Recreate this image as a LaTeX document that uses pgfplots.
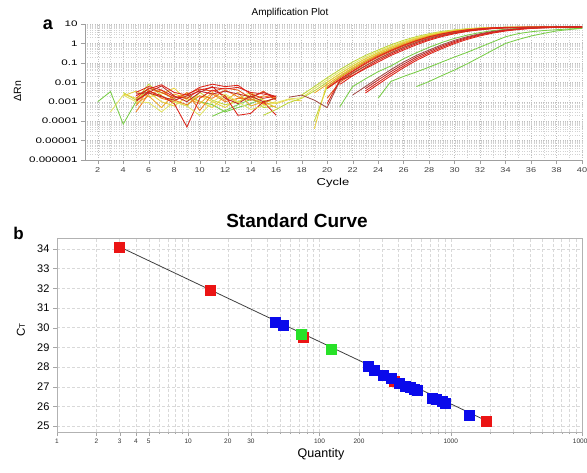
\documentclass[border=0pt]{standalone}
\usepackage{fontspec}
\setmainfont{Liberation Sans}
\newfontfamily\widefont[FakeStretch=1.3]{Liberation Sans}
\newfontfamily\widerfont[FakeStretch=1.45]{Liberation Sans}
\usepackage{pgfplots}
\pgfplotsset{compat=1.18}
\definecolor{cR}{RGB}{220,35,25}
\definecolor{cDR}{RGB}{190,40,40}
\definecolor{cOR}{RGB}{232,80,20}
\definecolor{cO}{RGB}{238,125,30}
\definecolor{cA}{RGB}{236,170,40}
\definecolor{cY}{RGB}{232,210,60}
\definecolor{cLY}{RGB}{226,228,100}
\definecolor{cYG}{RGB}{190,215,55}
\definecolor{cG}{RGB}{120,205,70}
\definecolor{cBr}{RGB}{160,75,70}
\definecolor{mR}{RGB}{235,20,20}
\definecolor{mB}{RGB}{10,10,235}
\definecolor{mG}{RGB}{40,225,40}
\begin{document}
\begin{tikzpicture}
\path[use as bounding box] (0pt,0pt) rectangle (587pt,-472pt);
% ---------------- panel a ----------------
\begin{axis}[
  at={(85pt,-160pt)}, anchor=south west,
  scale only axis, width=497pt, height=136pt,
  ymode=log, xmin=1, xmax=40, ymin=1e-6, ymax=10,
  axis x line*=bottom, axis y line*=left,
  axis line style={gray!75,-},
  /pgf/number format/assume math mode=true,
  xtick={2,4,...,40}, minor x tick num=1,
  ytick={1e-6,1e-5,1e-4,1e-3,1e-2,1e-1,1,10},
  yticklabels={0.000001,0.00001,0.0001,0.001,0.01,0.1,1,10},
  minor ytick={2e-6,3e-6,4e-6,5e-6,6e-6,7e-6,8e-6,9e-6,
    2e-5,3e-5,4e-5,5e-5,6e-5,7e-5,8e-5,9e-5,
    2e-4,3e-4,4e-4,5e-4,6e-4,7e-4,8e-4,9e-4,
    2e-3,3e-3,4e-3,5e-3,6e-3,7e-3,8e-3,9e-3,
    0.02,0.03,0.04,0.05,0.06,0.07,0.08,0.09,
    0.2,0.3,0.4,0.5,0.6,0.7,0.8,0.9,
    2,3,4,5,6,7,8,9},
  grid=both,
  major grid style={dotted, gray!50},
  minor grid style={dotted, gray!35},
  tick align=outside, major tick length=4pt, minor tick length=0pt,
  tick style={gray!75},
  x tick label style={font=\widefont\fontsize{7}{8}\selectfont, text=gray!50!black},
  y tick label style={font=\widerfont\fontsize{8}{9}\selectfont},
  every axis plot/.append style={line width=0.85pt, mark=none},
]
% baseline noise
\addplot[cG] coordinates {(2,0.001) (3,0.0033) (4,0.00007) (5,0.001) (6,0.005) (7,0.003) (8,0.0015) (9,0.0025) (10,0.001) (11,0.0007) (12,0.0003) (13,0.0005) (14,0.0008) (15,0.0015)};
\addplot[cG] coordinates {(11,0.00018) (12,0.00035) (13,0.0007) (14,0.0013) (15,0.0009) (16,0.0016)};
\addplot[cYG] coordinates {(4,0.003) (5,0.0012) (6,0.008) (7,0.002) (8,0.001) (9,0.0006) (10,0.003) (11,0.0012) (12,0.0007) (13,0.001) (14,0.002) (15,0.0005) (16,0.0006)};
\addplot[cY] coordinates {(4,0.0025) (5,0.0015) (6,0.003) (7,0.001) (8,0.0006) (9,0.0018) (10,0.001) (11,0.0005) (12,0.002) (13,0.0009) (14,0.0025) (15,0.0007) (16,0.001)};
\addplot[cY] coordinates {(4,0.002) (5,0.0035) (6,0.0018) (7,0.0025) (8,0.005) (9,0.0012) (10,0.002) (11,0.001) (12,0.0005) (13,0.0015) (14,0.003) (15,0.0012) (16,0.0008) (17,0.0013) (18,0.0011)};
\addplot[cA] coordinates {(5,0.0008) (6,0.002) (7,0.0005) (8,0.0025) (9,0.0015) (10,0.0008) (11,0.003) (12,0.0012) (13,0.003) (14,0.0006) (15,0.001) (16,0.0005)};
\addplot[cO] coordinates {(5,0.0006) (6,0.004) (7,0.0015) (8,0.001) (9,0.003) (10,0.00035) (11,0.0025) (12,0.001) (13,0.0015) (14,0.0014) (15,0.0008) (16,0.0018)};
\addplot[cO] coordinates {(5,0.0003) (6,0.0025) (7,0.004) (8,0.0012) (9,0.0007) (10,0.002) (11,0.0015) (12,0.004) (13,0.0018) (14,0.0012) (15,0.002) (16,0.0015)};
\addplot[cOR] coordinates {(5,0.0015) (6,0.005) (7,0.003) (8,0.0015) (9,0.0025) (10,0.0045) (11,0.0035) (12,0.005) (13,0.004) (14,0.0015) (15,0.0035) (16,0.0012)};
\addplot[cDR] coordinates {(5,0.0025) (6,0.003) (7,0.0065) (8,0.002) (9,0.001) (10,0.003) (11,0.006) (12,0.0015) (13,0.0008) (14,0.002) (15,0.001) (16,0.0015)};
\addplot[cDR] coordinates {(5,0.0012) (6,0.0028) (7,0.0018) (8,0.0012) (9,0.002) (10,0.0035) (11,0.0025) (12,0.0035) (13,0.0025) (14,0.0018) (15,0.003) (16,0.0018)};
\addplot[cR] coordinates {(5,0.003) (6,0.006) (7,0.004) (8,0.0018) (9,0.0015) (10,0.004) (11,0.0055) (12,0.0045) (13,0.0055) (14,0.003) (15,0.0025) (16,0.0018)};
\addplot[cR] coordinates {(5,0.002) (6,0.0045) (7,0.0075) (8,0.003) (9,0.0022) (10,0.0055) (11,0.008) (12,0.006) (13,0.007) (14,0.0025) (15,0.0015) (16,0.002)};
\addplot[cR] coordinates {(5,0.001) (6,0.0035) (7,0.002) (8,0.0008) (9,0.00005) (10,0.0015) (11,0.004) (12,0.002) (13,0.0002) (14,0.00025) (15,0.001) (16,0.0002)};
% amplification
\addplot[cG] coordinates {(27,0.006) (28,0.011) (29,0.022) (30,0.043) (31,0.09) (32,0.2) (33,0.45) (34,1.0) (35,1.6) (36,2.4) (37,3.3) (38,4.4) (39,5.2) (40,6.0)};
\addplot[cG] coordinates {(24,0.0015) (25,0.011) (26,0.02) (27,0.034) (28,0.06) (29,0.11) (30,0.2) (31,0.35) (32,0.65) (33,1.2) (34,2.2) (35,3.2) (36,4.0) (37,4.6) (38,5.1) (39,5.6) (40,6.0)};
\addplot[cG] coordinates {(21,0.00055) (22,0.006) (23,0.015) (24,0.035) (25,0.069) (26,0.162) (27,0.33) (28,0.63) (29,1.12) (30,1.82) (31,2.69) (32,3.63) (33,4.57) (34,5.37) (35,6.03) (36,6.46) (38,6.7) (40,7.0)};
\addplot[cYG] coordinates {(15,0.0002) (16,0.0004) (17,0.0009) (18,0.0015) (19,0.0036) (20,0.01) (21,0.0275) (22,0.069) (23,0.162) (24,0.33) (25,0.63) (26,1.12) (27,1.82) (28,2.69) (29,3.63) (30,4.57) (31,5.37) (32,6.03) (33,6.46) (34,6.7) (36,6.9) (38,7.0) (40,7.1)};
\addplot[cYG] coordinates {(18,0.0022) (19,0.006) (20,0.017) (21,0.0447) (22,0.11) (23,0.24) (24,0.457) (25,0.85) (26,1.45) (27,2.24) (28,3.16) (29,4.17) (30,5.01) (31,5.75) (32,6.31) (33,6.61) (34,6.76) (36,6.9) (38,7.0) (40,7.1)};
\addplot[cLY] coordinates {(3,0.0003) (4,0.0022) (5,0.001) (6,0.0009) (7,0.0003) (8,0.001) (9,0.0006) (10,0.0002) (11,0.001) (12,0.0025) (13,0.001) (14,0.0004) (15,0.0006) (16,0.0009) (17,0.0014) (18,0.0016) (19,0.0047) (20,0.0132) (21,0.035) (22,0.087) (23,0.197) (24,0.39) (25,0.73) (26,1.27) (27,2.02) (28,2.92) (29,3.89) (30,4.79) (31,5.55) (32,6.17) (33,6.5) (34,6.7) (36,6.9) (38,7.0) (40,7.1)};
\addplot[cYG] coordinates {(19,0.0001) (20,0.006) (21,0.019) (22,0.05) (23,0.12) (24,0.26) (25,0.49) (26,0.9) (27,1.52) (28,2.33) (29,3.26) (30,4.25) (31,5.08) (32,5.8) (33,6.35) (34,6.62) (36,6.85) (38,7.0) (40,7.1)};
\addplot[cY] coordinates {(19,0.00004) (20,0.01) (21,0.0275) (22,0.069) (23,0.162) (24,0.33) (25,0.63) (26,1.12) (27,1.82) (28,2.69) (29,3.63) (30,4.57) (31,5.37) (32,6.03) (33,6.46) (34,6.7) (36,6.9) (38,7.0) (40,7.1)};
\addplot[cA] coordinates {(19,0.0028) (20,0.0078) (21,0.0216) (22,0.056) (23,0.133) (24,0.28) (25,0.537) (26,0.98) (27,1.62) (28,2.45) (29,3.39) (30,4.37) (31,5.2) (32,5.9) (33,6.4) (34,6.65) (36,6.9) (38,7.0) (40,7.1)};
\addplot[cO] coordinates {(20,0.006) (21,0.017) (22,0.0447) (23,0.11) (24,0.24) (25,0.457) (26,0.85) (27,1.45) (28,2.24) (29,3.16) (30,4.17) (31,5.01) (32,5.75) (33,6.31) (34,6.61) (35,6.76) (36,6.85) (38,7.0) (40,7.1)};
\addplot[cOR] coordinates {(20,0.0047) (21,0.0132) (22,0.035) (23,0.087) (24,0.197) (25,0.39) (26,0.73) (27,1.27) (28,2.02) (29,2.92) (30,3.89) (31,4.79) (32,5.55) (33,6.17) (34,6.5) (35,6.7) (36,6.8) (38,7.0) (40,7.1)};
\addplot[cOR] coordinates {(20,0.0015) (21,0.01) (22,0.0275) (23,0.069) (24,0.162) (25,0.33) (26,0.63) (27,1.12) (28,1.82) (29,2.69) (30,3.63) (31,4.57) (32,5.37) (33,6.03) (34,6.46) (35,6.7) (36,6.8) (38,7.0) (40,7.1)};
\addplot[cBr] coordinates {(17,0.0017) (18,0.0022) (19,0.0012) (20,0.0005) (21,0.012) (22,0.03) (23,0.07) (24,0.16) (25,0.33) (26,0.63) (27,1.12) (28,1.82) (29,2.69) (30,3.63) (31,4.57) (32,5.37) (33,6.03) (34,6.46) (36,6.8) (38,7.0) (40,7.1)};
\addplot[cR] coordinates {(20,0.005) (21,0.0145) (22,0.038) (23,0.096) (24,0.215) (25,0.43) (26,0.8) (27,1.38) (28,2.2) (29,3.1) (30,4.1) (31,5.0) (32,5.8) (33,6.4) (34,6.7) (36,6.9) (38,7.1) (40,7.3)};
\addplot[cR] coordinates {(21,0.0078) (22,0.0216) (23,0.056) (24,0.133) (25,0.28) (26,0.537) (27,0.98) (28,1.62) (29,2.45) (30,3.39) (31,4.37) (32,5.2) (33,5.9) (34,6.4) (35,6.65) (36,6.8) (38,7.0) (40,7.2)};
\addplot[cR] coordinates {(20,0.0008) (21,0.013) (22,0.022) (23,0.05) (24,0.11) (25,0.24) (26,0.457) (27,0.85) (28,1.45) (29,2.24) (30,3.16) (31,4.17) (32,5.01) (33,5.75) (34,6.31) (35,6.61) (36,6.76) (38,6.9) (40,7.2)};
\addplot[cBr] coordinates {(22,0.0022) (23,0.006) (24,0.017) (25,0.0447) (26,0.11) (27,0.24) (28,0.457) (29,0.85) (30,1.45) (31,2.24) (32,3.16) (33,4.17) (34,5.01) (35,5.75) (36,6.31) (38,6.76) (40,7.0)};
\addplot[cDR] coordinates {(23,0.0047) (24,0.0132) (25,0.035) (26,0.087) (27,0.197) (28,0.39) (29,0.73) (30,1.27) (31,2.02) (32,2.92) (33,3.89) (34,4.79) (35,5.55) (36,6.17) (37,6.5) (38,6.7) (40,7.0)};
\addplot[cR] coordinates {(23,0.0036) (24,0.01) (25,0.0275) (26,0.069) (27,0.162) (28,0.33) (29,0.63) (30,1.12) (31,1.82) (32,2.69) (33,3.63) (34,4.57) (35,5.37) (36,6.03) (37,6.46) (38,6.7) (40,7.0)};
\addplot[cR] coordinates {(23,0.0028) (24,0.0078) (25,0.0216) (26,0.056) (27,0.133) (28,0.28) (29,0.537) (30,0.98) (31,1.62) (32,2.45) (33,3.39) (34,4.37) (35,5.2) (36,5.9) (37,6.4) (38,6.65) (40,7.0)};
\end{axis}
\node at (290pt,-13pt) {\fontsize{10}{12}\selectfont Amplification Plot};
\node at (48pt,-25pt) {\fontsize{18}{20}\selectfont\bfseries a};
\node at (333pt,-183pt) {\widefont\fontsize{10}{12}\selectfont Cycle};
\node[rotate=90] at (17.5pt,-91pt) {\fontsize{10.5}{12}\selectfont ΔRn};
% ---------------- panel b ----------------
\begin{axis}[
  at={(57pt,-432pt)}, anchor=south west,
  scale only axis, width=525pt, height=194pt,
  xmode=log, xmin=1, xmax=10000, ymin=24.7, ymax=34.55,
  axis line style={gray!60},
  /pgf/number format/assume math mode=true,
  xtick={1,2,3,4,5,10,20,30,100,200,1000,10000},
  xticklabels={1,2,3,4,5,10,20,30,100,200,1000,10000},
  minor xtick={6,7,8,9,40,50,60,70,80,90,300,400,500,600,700,800,900,2000,3000,4000,5000,6000,7000,8000,9000},
  ytick={25,26,...,34},
  grid=both,
  major grid style={densely dashed, gray!30},
  minor grid style={densely dashed, gray!30},
  tick pos=left, tick align=outside,
  major tick length=4pt, minor tick length=2pt,
  tick style={gray!70},
  x tick label style={font=\fontsize{6.5}{7}\selectfont, text=gray!40!black, yshift=1pt},
  y tick label style={font=\fontsize{11}{12}\selectfont},
]
\addplot[black!75, line width=0.8pt, mark=none] coordinates {(3,34.1) (1871,25.27)};
\addplot[only marks, mark=square*, mark size=5pt, mR, mark options={draw=mR, fill=mR}] coordinates {(3,34.1) (14.8,31.92) (75.5,29.51) (372,27.29) (1871,25.27)};
\addplot[only marks, mark=square*, mark size=5pt, mB, mark options={draw=mB, fill=mB}] coordinates {(46.3,30.27) (52.6,30.12) (237,28.02) (262,27.85) (307,27.6) (351,27.42) (406,27.17) (451,27.05) (490,26.95) (528,26.88) (553,26.83) (728,26.44) (780,26.37) (867,26.24) (908,26.16) (1383,25.56)};
\addplot[only marks, mark=square*, mark size=5pt, mG, mark options={draw=mG, fill=mG}] coordinates {(72.6,29.66) (122.7,28.92)};
\end{axis}
\node at (297pt,-221pt) {\fontsize{19}{21}\selectfont\bfseries Standard Curve};
\node at (18.5pt,-233pt) {\fontsize{17}{19}\selectfont\bfseries b};
\node at (321pt,-454pt) {\fontsize{12.5}{14}\selectfont Quantity};
\node[rotate=90] at (21pt,-330pt) {\fontsize{11.5}{13}\selectfont C{\fontsize{8}{9}\selectfont T}};
\end{tikzpicture}
\end{document}
